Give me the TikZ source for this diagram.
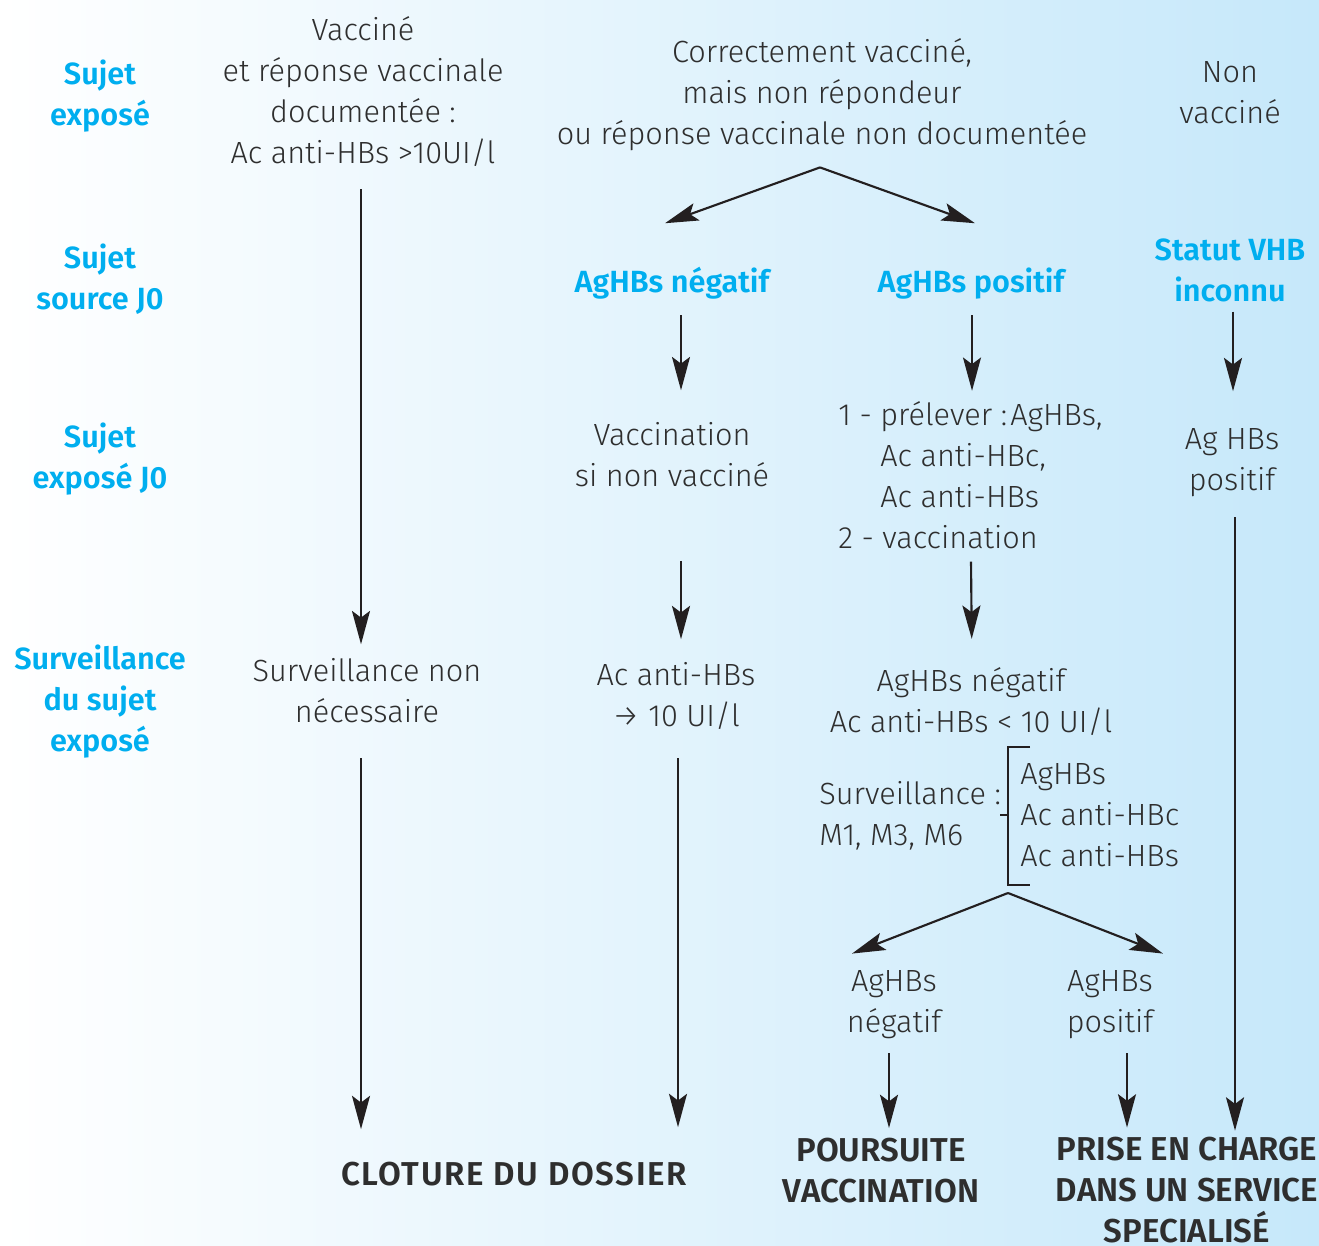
\documentclass[tikz,border=0pt]{standalone}
\usepackage{fontspec}
\setmainfont{Fira Sans}[UprightFont={* Light}, BoldFont={* SemiBold}]
\usetikzlibrary{arrows.meta}
\definecolor{tgray}{HTML}{2E2E2E}
\definecolor{hblue}{HTML}{00AEEF}
\definecolor{bgblue}{HTML}{C6E8FA}
\definecolor{lgray}{HTML}{231F20}
\newcommand{\tfont}{\fontsize{23}{30.75}\selectfont}
\newcommand{\ffont}{\fontsize{24.8}{30.75}\selectfont}
\begin{document}
\begin{tikzpicture}[x=0.75pt,y=-0.75pt,
  txt/.style={font=\tfont, text=tgray, align=center, inner sep=0pt,
    execute at begin node=\strut, execute at end node=\strut},
  txtl/.style={txt, align=left, anchor=west},
  hd/.style={txt, font=\tfont\bfseries, text=hblue},
  fin/.style={txt, font=\ffont\bfseries, text=tgray},
  arr/.style={draw=lgray, line width=1.6pt, -{Stealth[length=25pt,width=13.5pt,inset=5pt]}},
  brk/.style={draw=lgray, line width=1.4pt}]
\shade[left color=white, right color=bgblue] (0,0) rectangle (1319,1245);
\useasboundingbox (0,0) rectangle (1319,1245);
% left labels
\node[hd] (l1) at (100,99) {Sujet\\exposé};
\node[hd] (l2) at (100,283) {Sujet\\source J0};
\node[hd] (l3) at (100,462) {Sujet\\exposé J0};
\node[hd] (l4) at (100,704) {Surveillance\\du sujet\\exposé};
% column 1
\node[txt] (c1top) at (363,96) {Vacciné\\et réponse vaccinale\\documentée :\\Ac anti-HBs >10UI/l};
\node[txt] (c1mid) at (367,697) {Surveillance non\\nécessaire};
\node[fin] (clot) at (514,1177) {\addfontfeatures{LetterSpace=5}CLOTURE DU DOSSIER};
% column 2-3 top
\node[txt] (c23) at (822,98) {Correctement vacciné,\\mais non répondeur\\ou réponse vaccinale non documentée};
\node[hd] (neg) at (672,284) {AgHBs négatif};
\node[hd] (pos) at (971,284) {AgHBs positif};
\node[txt] (vacc) at (672,461) {Vaccination\\si non vacciné};
\node[txt] (acn) at (676,701) {Ac anti-HBs\\→ 10 UI/l};
\node[txtl] (prel) at (838,481) {1 - prélever :\hspace{0.1em}AgHBs,\\\phantom{1 - }Ac anti-HBc,\\\phantom{1 - }Ac anti-HBs\\2 - vaccination};
\node[txt] (agneg) at (971,706) {AgHBs négatif\\Ac anti-HBs < 10 UI/l};
\node[txtl] (surv) at (819,820) {Surveillance :\\M1, M3, M6};
\node[txtl] (list) at (1020,821) {AgHBs\\Ac anti-HBc\\Ac anti-HBs};
\node[txt] (n2) at (894,1008) {AgHBs\\négatif};
\node[txt] (p2) at (1110,1008) {AgHBs\\positif};
\node[fin] (pours) at (881,1176) {POURSUITE\\VACCINATION};
\node[fin] (prise) at (1187,1196) {PRISE EN CHARGE\\DANS UN SERVICE\\SPECIALISÉ};
% column 4
\node[txt] (c4) at (1230,99) {Non\\vacciné};
\node[hd] (statut) at (1230,276) {Statut VHB\\inconnu};
\node[txt] (agpos) at (1232,466) {Ag HBs\\positif};
% bracket
\draw[brk] (1030,747) -- (1008,747) -- (1008,885) -- (1030,885);
\draw[brk] (1000,815) -- (1008,815);
\coordinate (brb) at (1008,893);
% arrows column 1
\draw[arr, shorten <=10pt, shorten >=10.7pt] ([xshift=-1.5pt]c1top.south) -- ([xshift=-1.5pt]c1top.south |- c1mid.north);
\draw[arr, shorten <=17pt, shorten >=20.3pt] ([xshift=-4.5pt]c1mid.south) -- ([xshift=-4.5pt]c1mid.south |- clot.north);
% split 1
\draw[arr] ([shift={(-2,10)}]c23.south) -- ([shift={(-7,-40)}]neg.north);
\draw[arr] ([shift={(-2,10)}]c23.south) -- ([shift={(4,-40)}]pos.north);
% column 2
\draw[arr, shorten <=8pt, shorten >=24.2pt] ([xshift=6.75pt]neg.south) -- ([xshift=6.75pt]vacc.north);
\draw[arr, shorten <=46pt, shorten >=17.5pt] ([xshift=6.75pt]vacc.south) -- ([xshift=3.75pt]acn.north);
\draw[arr, shorten <=14pt, shorten >=21.8pt] ([xshift=1.5pt]acn.south) -- ([xshift=1.5pt]acn.south |- clot.north);
% column 3
\draw[arr, shorten <=8pt, shorten >=7.7pt] ([xshift=0.75pt]pos.south) -- ([xshift=0.75pt]pos.south |- prel.north);
\draw[arr, shorten <=0.5pt, shorten >=21.2pt] (agneg.north |- prel.south) -- ([xshift=0.75pt]agneg.north);
% split 2
\draw[arr] (brb) -- ([shift={(-42,-17)}]n2.north);
\draw[arr] (brb) -- ([shift={(53,-17)}]p2.north);
\draw[arr, shorten <=5.8pt, shorten >=7pt] ([xshift=-3.75pt]n2.south) -- ([xshift=-3.75pt]n2.south |- pours.north);
\draw[arr, shorten <=5.8pt, shorten >=7pt] ([xshift=12.75pt]p2.south) -- ([xshift=12.75pt]p2.south |- prise.north);
% column 4
\draw[arr, shorten <=-1.7pt, shorten >=28pt] ([xshift=2.25pt]statut.south) -- ([xshift=2.25pt]statut.south |- agpos.north);
\draw[arr, shorten <=10.3pt, shorten >=4.7pt] ([xshift=2.25pt]agpos.south) -- ([xshift=2.25pt]agpos.south |- prise.north);
\end{tikzpicture}
\end{document}
